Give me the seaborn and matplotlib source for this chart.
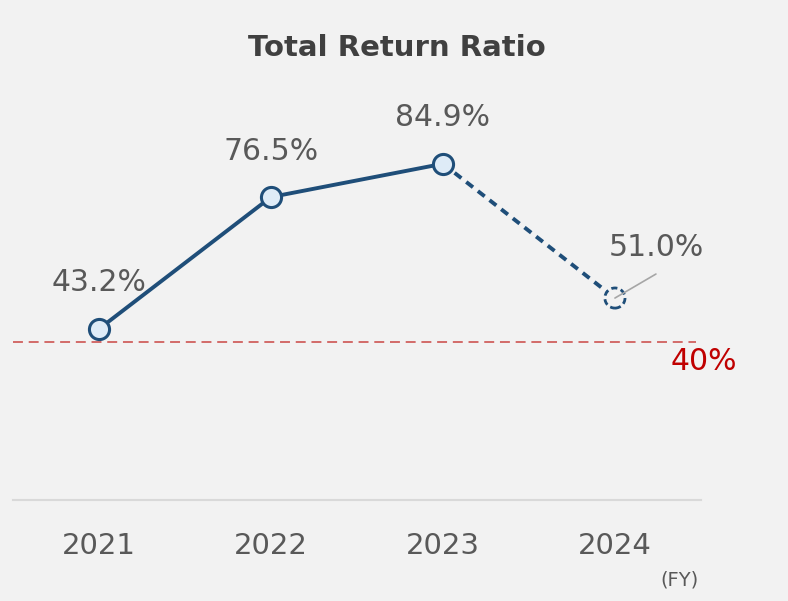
import matplotlib
matplotlib.use("Agg")
import matplotlib.pyplot as plt
import seaborn as sns
import pandas as pd

years = ["2021", "2022", "2023", "2024"]
ratios = [43.2, 76.5, 84.9, 51.0]
labels = ["43.2%", "76.5%", "84.9%", "51.0%"]
target = 40
target_label = "40%"
title = "Total Return Ratio"
unit_label = "(FY)"

sns.set_theme(style="white")
plt.rcParams["font.family"] = ["DejaVu Sans"]

BG = "#f2f2f2"
NAVY = "#1f4e79"
FACE = "#deebf7"
GREY_TXT = "#595959"

df = pd.DataFrame({"pos": range(len(years)), "year": years, "ratio": ratios})
actual = df.iloc[:3]
forecast = df.iloc[2:]

fig = plt.figure(figsize=(7.88, 6.01), dpi=100, facecolor=BG)
ax = fig.add_axes([0.0165, 0.168, 0.873, 0.659], facecolor=BG)

# target line
ax.axhline(target, color="#d0605e", lw=1.3, ls=(0, (5.5, 3.2)), zorder=1, xmax=0.993)

sns.lineplot(data=actual, x="pos", y="ratio", ax=ax, color=NAVY, lw=2.8, zorder=2)
sns.lineplot(data=forecast, x="pos", y="ratio", ax=ax, color=NAVY, lw=2.8,
             linestyle=(0, (2.2, 1.6)), zorder=2)

sns.scatterplot(data=actual, x="pos", y="ratio", ax=ax, s=210, color=FACE,
                edgecolor=NAVY, linewidth=2.2, zorder=3)
sns.scatterplot(data=df.iloc[3:], x="pos", y="ratio", ax=ax, s=210, color=BG,
                edgecolor=NAVY, linewidth=2.0, linestyles=(0, (2.2, 1.3)), zorder=3)

# data labels
for i in range(3):
    ax.annotate(labels[i], (df.pos[i], ratios[i]), xytext=(0, 46), textcoords="offset pixels",
                ha="center", va="center", fontsize=21.5, color=GREY_TXT)
ax.annotate(labels[3], (df.pos[3], ratios[3]), xytext=(41, 51), textcoords="offset pixels",
            ha="center", va="center", fontsize=21.5, color=GREY_TXT)
ax.annotate("", (df.pos[3], ratios[3]), xytext=(41, 24), textcoords="offset pixels",
            arrowprops=dict(arrowstyle="-", color="#a6a6a6", lw=1.2, shrinkA=0, shrinkB=0))

ax.annotate(target_label, (3.5, target), xytext=(3, -20), textcoords="offset pixels",
            ha="center", va="center", fontsize=21.5, color="#c00000")

ax.set_xlim(-0.5, 3.5)
ax.set_ylim(0, 100)
ax.set_xticks(range(len(years)))
ax.set_xticklabels(years, fontsize=21, color=GREY_TXT)
ax.set_yticks([])
ax.set_xlabel("")
ax.set_ylabel("")
ax.tick_params(axis="x", length=0, pad=23)
for s in ["top", "left", "right"]:
    ax.spines[s].set_visible(False)
ax.spines["bottom"].set_color("#d9d9d9")
ax.spines["bottom"].set_linewidth(1.5)

fig.text(0.504, 0.92, title, ha="center", va="center", fontsize=21, fontweight="bold",
         color="#404040")
fig.text(0.862, 0.035, unit_label, ha="center", va="center", fontsize=14, color=GREY_TXT)

fig.savefig("out.png", dpi=100, facecolor=BG)
